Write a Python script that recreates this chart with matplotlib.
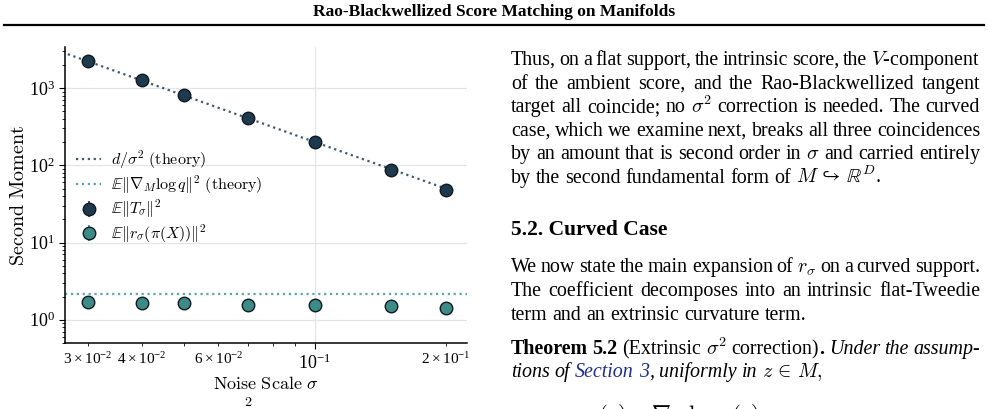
import matplotlib
matplotlib.use('Agg')
import matplotlib.pyplot as plt
from matplotlib.lines import Line2D

plt.rcParams['mathtext.fontset'] = 'cm'
plt.rcParams['font.family'] = ['Liberation Serif', 'DejaVu Serif']

# data
sigma = [0.03, 0.04, 0.05, 0.07, 0.1, 0.15, 0.2]
T_moment = [2230, 1260, 805, 410, 200, 88, 48.5]
T_err = [60, 35, 22, 11, 5, 2.5, 1.4]
r_moment = [1.72, 1.64, 1.66, 1.56, 1.53, 1.49, 1.43]
r_err = [0.06, 0.05, 0.05, 0.05, 0.05, 0.05, 0.05]
theory_sigma = [0.027, 0.21]
theory_T = [2743.5, 45.35]      # d / sigma^2 with d = 2
theory_r = 2.13

navy = '#1e3a4f'
teal = '#3b8b87'

W, H = 988, 409
fig = plt.figure(figsize=(W / 100, H / 100), dpi=100)

# ---- chart ----
ax = fig.add_axes([65 / W, 1 - 343 / H, 402 / W, 296 / H])
ax.set_xscale('log')
ax.set_yscale('log')
ax.plot(theory_sigma, theory_T, ls=':', color='#3f5a6d', lw=1.6, label=r'$d/\sigma^2\ \mathrm{(theory)}$', zorder=2)
ax.axhline(theory_r, ls=':', color='#5aa6a1', lw=1.6, label=r'$\mathbb{E}\|\nabla_M \log q\|^2\ \mathrm{(theory)}$', zorder=2)
ax.errorbar(sigma, T_moment, yerr=T_err, fmt='o', color=navy, ms=9, mec='#111820', mew=1.0,
            elinewidth=1.2, label=r'$\mathbb{E}\|T_\sigma\|^2$', zorder=3)
ax.errorbar(sigma, r_moment, yerr=r_err, fmt='o', color=teal, ms=9, mec='#111820', mew=1.0,
            elinewidth=1.2, label=r'$\mathbb{E}\|r_\sigma(\pi(X))\|^2$', zorder=3)
ax.set_xlim(0.0266, 0.224)
ax.set_ylim(0.5, 3400)
ax.grid(True, which='major', color='#e4e4e4', lw=0.9)
ax.set_axisbelow(True)
for s in ['top', 'right']:
    ax.spines[s].set_visible(False)
ax.spines['left'].set_linewidth(1.1)
ax.spines['bottom'].set_linewidth(1.1)
ax.tick_params(axis='both', which='major', labelsize=13, length=4)
ax.tick_params(axis='x', which='minor', labelsize=11, length=2.5)
ax.set_xlabel(r'$\mathrm{Noise\ Scale}\ \sigma$', fontsize=13, labelpad=2)
ax.set_ylabel(r'$\mathrm{Second\ Moment}$', fontsize=14.5, labelpad=0)
ax.legend(loc='upper left', bbox_to_anchor=(0.0, 0.695), frameon=False, fontsize=11.5,
          handlelength=1.55, handletextpad=0.6, labelspacing=0.15, borderaxespad=0.3)

# ---- page text ----
fig.text(0.5, 1 - 12 / H, 'Rao-Blackwellized Score Matching on Manifolds', ha='center', va='center',
         fontsize=12.5, weight='bold')
fig.add_artist(Line2D([4 / W, 984 / W], [1 - 25 / H, 1 - 25 / H], color='black', lw=1.6))

renderer = fig.canvas.get_renderer()
X0, X1 = 511, 980
FS = 14.4

styles = {
    'n': {},
    'b': {'weight': 'bold'},
    'i': {'style': 'italic'},
    'l': {'style': 'italic', 'color': '#1f2f8f'},
}


def put_line(words, base, justify=True, size=FS):
    items = []
    total = 0
    for word in words:
        segs = []
        w = 0
        for txt, kind in word:
            t = fig.text(0, 1 - base / H, txt, fontsize=size, va='baseline', ha='left', **styles[kind])
            tw = t.get_window_extent(renderer).width
            segs.append((t, tw))
            w += tw
        items.append(segs)
        total += w
    if justify and len(items) > 1:
        gap = (X1 - X0 - total) / (len(items) - 1)
    else:
        gap = 0.25 * size * 100 / 72
    x = X0
    for segs in items:
        for t, tw in segs:
            t.set_x(x / W)
            x += tw
        x += gap


def simple(s, kind='n'):
    return [[(w, kind)] for w in s.split(' ')]


para1 = [
    r'Thus, on a flat support, the intrinsic score, the $V$-component',
    'of the ambient score, and the Rao-Blackwellized tangent',
    r'target all coincide; no $\sigma^2$ correction is needed. The curved',
    'case, which we examine next, breaks all three coincidences',
    r'by an amount that is second order in $\sigma$ and carried entirely',
    r'by the second fundamental form of $M\/\hookrightarrow\/\mathbb{R}^D$.',
]
base1 = [65, 88.6, 112.2, 135.8, 159.4, 183]
for i, (s, b) in enumerate(zip(para1, base1)):
    put_line(simple(s), b, justify=(i < len(para1) - 1))

fig.text(X0 / W, 1 - 235 / H, '5.2. Curved Case', fontsize=15.5, weight='bold', va='baseline')

para2 = [
    r'We now state the main expansion of $r_\sigma$ on a curved support.',
    'The coefficient decomposes into an intrinsic flat-Tweedie',
    'term and an extrinsic curvature term.',
]
base2 = [272, 296, 320]
for i, (s, b) in enumerate(zip(para2, base2)):
    put_line(simple(s), b, justify=(i < len(para2) - 1))

thm1 = ([[('Theorem', 'b')], [('5.2', 'b')], [('(Extrinsic', 'n')], [(r'$\sigma^2$', 'n')],
         [('correction)', 'n'), ('.', 'b')]] + simple('Under the assump-', 'i'))
put_line(thm1, 354, justify=True)
thm2 = simple('tions of', 'i') + [[('Section', 'l')], [('3', 'l'), (',', 'i')]] + simple('uniformly in', 'i') + \
    [[(r'$z\/\in\/M,$', 'i')]]
put_line(thm2, 377, justify=False)

# top of the next display equation, cut by the page crop
fig.text(244 / W, 1 - 399 / H, r'$^{2}$', fontsize=FS, va='top')
fig.text(598 / W, 1 - 402 / H, r'$(z) - \nabla_{M} \log q(z)$', fontsize=FS + 2, va='top')

fig.savefig('out.png', dpi=100)
